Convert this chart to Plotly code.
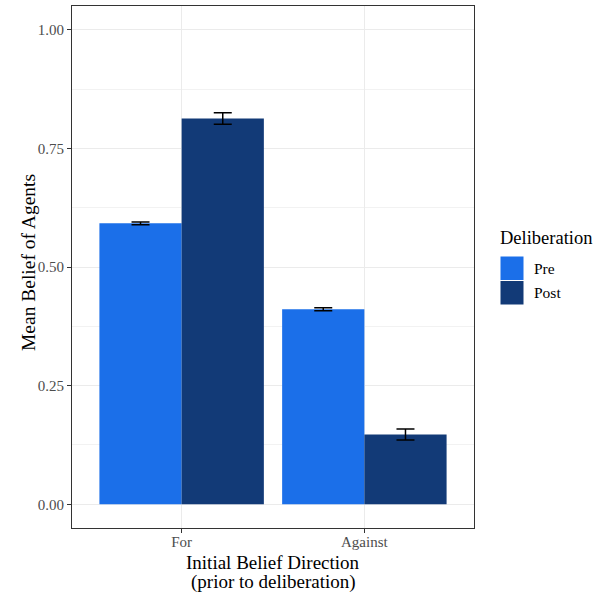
import plotly.graph_objects as go

categories = ["For", "Against"]
series_names = ["Pre", "Post"]
pre_values = [0.592, 0.411]
post_values = [0.813, 0.147]
pre_errors = [0.003, 0.003]
post_errors = [0.012, 0.0115]
y_ticks = [0.0, 0.25, 0.5, 0.75, 1.0]
y_tick_labels = ["0.00", "0.25", "0.50", "0.75", "1.00"]
x_title_lines = ["Initial Belief Direction", "(prior to deliberation)"]
y_title = "Mean Belief of Agents"
legend_title = "Deliberation"

colors = {"Pre": "#1B6FE9", "Post": "#123A77"}
FONT = "Liberation Serif"

W, H = 597, 594
ML, MR, MT, MB = 72, 123, 6, 66
PW, PH = W - ML - MR, H - MT - MB

fig = go.Figure()
for name, vals, errs in [("Pre", pre_values, pre_errors), ("Post", post_values, post_errors)]:
    fig.add_trace(go.Bar(
        x=categories, y=vals, name=name,
        marker=dict(color=colors[name], line=dict(width=0)),
        error_y=dict(type="data", array=errs, visible=True, color="black", thickness=1.5, width=9),
        showlegend=False,
    ))

fig.update_layout(
    width=W, height=H,
    barmode="group", bargap=0.1, bargroupgap=0,
    plot_bgcolor="white", paper_bgcolor="white",
    margin=dict(l=ML, r=MR, t=MT, b=MB, autoexpand=False),
    font=dict(family=FONT, color="#4D4D4D", size=15),
)
fig.update_xaxes(
    type="category", range=[-0.6, 1.6],
    showgrid=True, gridcolor="#EBEBEB", gridwidth=1.3,
    showline=True, mirror=True, linecolor="#333333", linewidth=1,
    ticks="outside", ticklen=4, tickcolor="#333333",
    ticklabelstandoff=-4,
    tickfont=dict(family=FONT, size=15, color="#4D4D4D"),
)
fig.update_yaxes(
    range=[-0.05, 1.05],
    tickvals=y_ticks, ticktext=y_tick_labels,
    showgrid=True, gridcolor="#EBEBEB", gridwidth=1.3,
    minor=dict(dtick=0.125, tick0=0, showgrid=True, gridcolor="#F2F2F2", gridwidth=1),
    zeroline=False,
    showline=True, mirror=True, linecolor="#333333", linewidth=1,
    ticks="outside", ticklen=4, tickcolor="#333333",
    tickfont=dict(family=FONT, size=15, color="#4D4D4D"),
)

def px_x(x):
    return (x - ML) / PW

def px_y(y):
    return (MT + PH - y) / PH

# axis titles
for line, yy in zip(x_title_lines, [562, 582]):
    fig.add_annotation(xref="paper", yref="paper", x=px_x(273), y=px_y(yy), xanchor="center", yanchor="middle",
                       text=line, showarrow=False, font=dict(family=FONT, size=19, color="black"))
fig.add_annotation(xref="paper", yref="paper", x=px_x(28), y=px_y(263), xanchor="center", yanchor="middle",
                   text=y_title, textangle=-90, showarrow=False, font=dict(family=FONT, size=19.5, color="black"))

# custom legend (ggplot-style keys)
fig.add_annotation(xref="paper", yref="paper", x=px_x(498), y=px_y(238), xanchor="left", yanchor="middle",
                   text=legend_title, showarrow=False,
                   font=dict(family=FONT, size=18.5, color="black"))
key_top = 256
key_size = 24.5
for i, name in enumerate(series_names):
    t = key_top + i * key_size
    b = t + key_size
    fig.add_shape(type="rect", xref="paper", yref="paper", x0=px_x(500), x1=px_x(524), y0=px_y(b), y1=px_y(t),
                  fillcolor=colors[name], line=dict(color="white", width=1))
    fig.add_annotation(xref="paper", yref="paper", x=px_x(532), y=px_y((t + b) / 2),
                       xanchor="left", yanchor="middle", text=name, showarrow=False,
                       font=dict(family=FONT, size=15.5, color="black"))

fig.write_html("out.html", config={"displayModeBar": False},
               post_script="document.body.style.margin='0';")
